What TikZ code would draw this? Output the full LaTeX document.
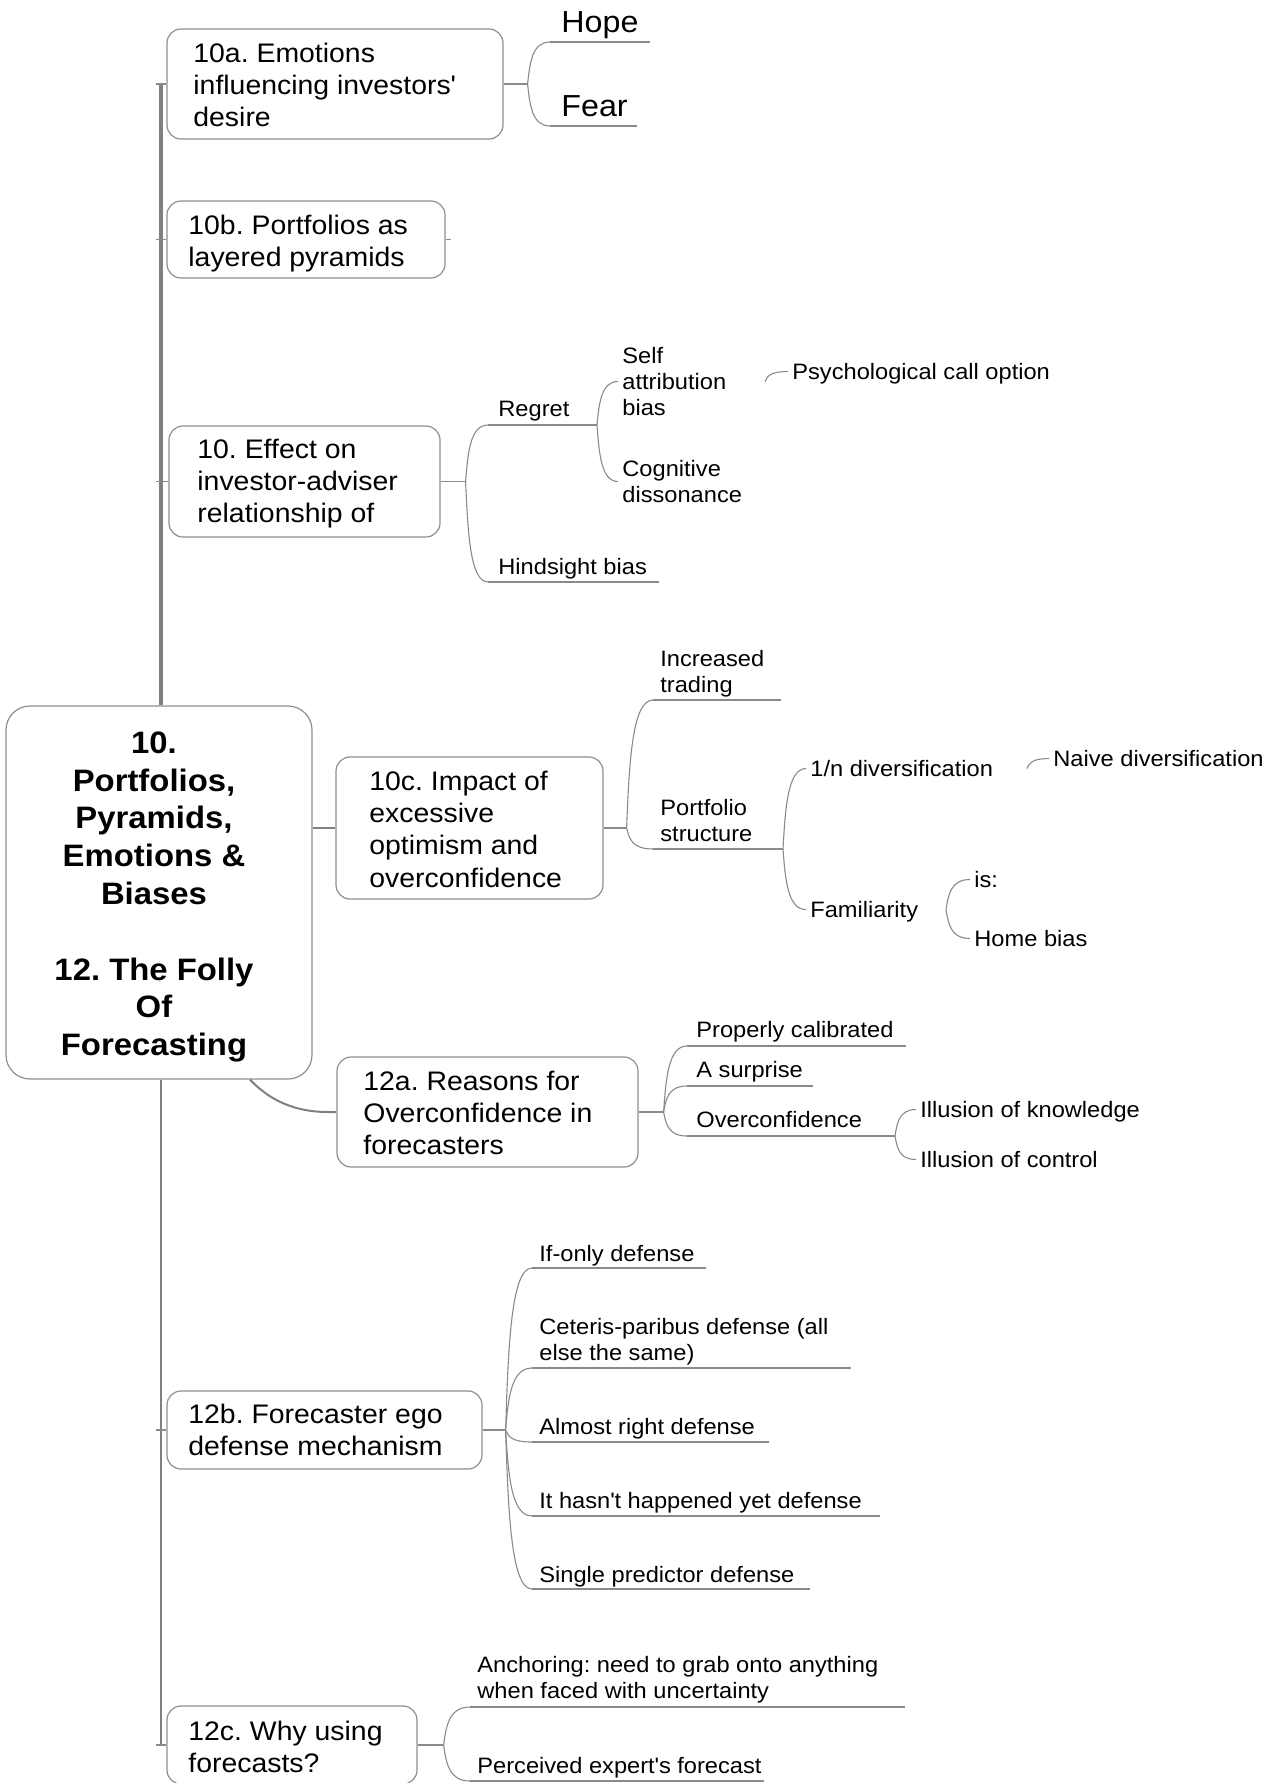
\documentclass[tikz,border=0pt]{standalone}
\usepackage{fontspec}
\setmainfont{Liberation Sans}[FakeStretch=1.06]
\usetikzlibrary{calc}

\definecolor{linegray}{HTML}{8A8A8A}
\definecolor{boxgray}{HTML}{8F8F8F}
\definecolor{trunkgray}{HTML}{808080}

% stacked left-aligned lines whose baseline is the last line
\newcommand\ml[1]{\vbox{\halign{##\hfil\cr#1\crcr}}}
% curved branch from a fork point to a child
\newcommand\bconn[2]{%
  \draw[conn] let \p1=(#1), \p2=(#2) in
    (\p1) .. controls ({\x1+0.1*(\x2-\x1)},{\y1+0.5*(\y2-\y1)})
              and ({\x1+0.2*(\x2-\x1)},{\y2}) .. (\p2);}
% underlined child: name, fork, line start x, line end x, line y, text x, baseline, style, text
\newcommand\uchild[9]{%
  \coordinate (#1-a) at (#3,#5);
  \coordinate (#1-b) at (#4,#5);
  \node[#8] (#1) at (#6,#7) {#9};
  \bconn{#2}{#1-a}
  \draw[conn] (#1-a) -- (#1-b);}

\tikzset{
  conn/.style={draw=linegray, line width=0.55pt},
  trunk/.style={draw=trunkgray, line width=1.9pt},
  trunklow/.style={draw=trunkgray, line width=1.3pt},
  mainlink/.style={draw=trunkgray, line width=1pt},
  topicbox/.style={draw=boxgray, line width=0.6pt, fill=white, rounded corners=7pt, inner sep=0pt},
  rootbox/.style={topicbox, rounded corners=12pt},
  topictext/.style={inner sep=0pt, anchor=west, align=left, font=\fontsize{13.4pt}{16.15pt}\selectfont},
  roottext/.style={inner sep=0pt, align=center, font=\bfseries\fontsize{15.5pt}{18.9pt}\selectfont},
  sub/.style={inner sep=0pt, text depth=0pt, anchor=south west, font=\fontsize{11.15pt}{13pt}\selectfont},
  bigsub/.style={sub, font=\fontsize{15.2pt}{18pt}\selectfont},
  leaf/.style={sub, inner xsep=2pt},
}

\begin{document}
\frenchspacing
\begin{tikzpicture}[x=0.5pt,y=-0.5pt]
\path[use as bounding box, fill=white] (0,0) rectangle (1267,1783);

% central topic
\node[rootbox, minimum width=153pt, minimum height=186.5pt] (root) at (159,892.5) {};
\node[roottext] (rootlabel) at (154,897) {10.\\Portfolios,\\Pyramids,\\Emotions \&\\Biases\\[18.9pt]12. The Folly\\Of\\Forecasting};

% main topics
\node[topicbox, minimum width=168pt, minimum height=55pt] (b10a) at (335,84) {};
\node[topictext] (l10a) at (193,85) {10a. Emotions\\influencing investors\textquotesingle\\desire};

\node[topicbox, minimum width=139pt, minimum height=38.5pt] (b10b) at (306,239.5) {};
\node[topictext] (l10b) at (188,243.5) {10b. Portfolios as\\layered pyramids};

\node[topicbox, minimum width=135.5pt, minimum height=55.5pt] (beff) at (304.5,481.5) {};
\node[topictext] (leff) at (197,483.5) {10. Effect on\\investor-adviser\\relationship of};

\node[topicbox, minimum width=133.5pt, minimum height=71pt] (b10c) at (469.5,828) {};
\node[topictext] (l10c) at (369,829) {10c. Impact of\\excessive\\optimism and\\overconfidence};

\node[topicbox, minimum width=150.5pt, minimum height=55pt] (b12a) at (487.5,1112) {};
\node[topictext] (l12a) at (363,1113) {12a. Reasons for\\Overconfidence in\\forecasters};

\node[topicbox, minimum width=157.5pt, minimum height=39pt] (b12b) at (324.5,1430) {};
\node[topictext] (l12b) at (188,1430) {12b. Forecaster ego\\defense mechanism};

\node[topicbox, minimum width=125pt, minimum height=39pt] (b12c) at (292,1745) {};
\node[topictext] (l12c) at (188,1747) {12c. Why using\\forecasts?};

% trunk from the central topic up and down
\coordinate (tk10a) at (161,0 |- b10a.west);
\coordinate (tk12c) at (161,0 |- b12c.west);
\draw[trunk] (tk10a) -- (161,0 |- root.north);
\draw[trunklow] (161,0 |- root.south) -- (tk12c);
\draw[conn] (156,0 |- b10a.west) -- (b10a.west);
\draw[conn] (156,0 |- b10b.west) -- (b10b.west);
\draw[conn] (156,0 |- beff.west) -- (beff.west);
\draw[conn] (156,0 |- b12b.west) -- (b12b.west);
\draw[conn] (156,0 |- b12c.west) -- (b12c.west);
\draw[conn] (b10b.east) -- ++(5,0);

% side links of the central topic
\draw[mainlink] (root.east |- b10c.west) -- (b10c.west);
\draw[mainlink] (250,0 |- root.south) .. controls +(20,21) and +(-33,0) .. (328,0 |- b12a.west) -- (b12a.west);

% fork points
\coordinate (f10a) at ($(b10a.east)+(24,0)$);
\coordinate (feff) at ($(beff.east)+(25,0)$);
\coordinate (f10c) at ($(b10c.east)+(23,0)$);
\coordinate (f12a) at ($(b12a.east)+(25,0)$);
\coordinate (f12b) at ($(b12b.east)+(23,0)$);
\coordinate (f12c) at ($(b12c.east)+(26,0)$);
\draw[conn] (b10a.east) -- (f10a);
\draw[conn] (beff.east) -- (feff);
\draw[conn] (b10c.east) -- (f10c);
\draw[conn] (b12a.east) -- (f12a);
\draw[conn] (b12b.east) -- (f12b);
\draw[conn] (b12c.east) -- (f12c);

% 10a
\uchild{hope}{f10a}{550}{650}{42}{561}{33}{bigsub}{Hope}
\uchild{fear}{f10a}{550}{637}{126}{561}{117}{bigsub}{Fear}

% 10. Effect
\uchild{regret}{feff}{488}{597}{425}{498}{417}{sub}{Regret}
\uchild{hind}{feff}{488}{659}{582}{498}{575}{sub}{Hindsight bias}
\node[leaf] (sab) at (618,416) {\ml{Self\cr attribution\cr bias}};
\node[leaf] (cogdis) at (618,503) {\ml{Cognitive\cr dissonance}};
\bconn{regret-b}{sab.west}
\bconn{regret-b}{cogdis.west}
\coordinate (sab-out) at (765,0 |- sab.east);
\node[leaf] (psych) at (788,380) {Psychological call option};
\bconn{sab-out}{psych.west}

% 10c
\uchild{incr}{f10c}{653}{781}{700}{660}{693}{sub}{\ml{Increased\cr trading}}
\uchild{pstruct}{f10c}{653}{783}{849}{660}{842}{sub}{\ml{Portfolio\cr structure}}
\node[leaf] (ndiv) at (806,777) {1/n diversification};
\node[leaf] (famil) at (806,918) {Familiarity};
\bconn{pstruct-b}{ndiv.west}
\bconn{pstruct-b}{famil.west}
\coordinate (ndiv-out) at (1027,0 |- ndiv.east);
\node[leaf] (naive) at (1049,767) {Naive diversification};
\bconn{ndiv-out}{naive.west}
\coordinate (famil-out) at (946,0 |- famil.east);
\node[leaf] (isn) at (970,888) {is:};
\node[leaf] (home) at (970,947) {Home bias};
\bconn{famil-out}{isn.west}
\bconn{famil-out}{home.west}

% 12a
\uchild{propcal}{f12a}{687}{906}{1046}{696}{1038}{sub}{Properly calibrated}
\uchild{surprise}{f12a}{687}{813}{1086}{696}{1078}{sub}{A surprise}
\uchild{overc}{f12a}{687}{895}{1136}{696}{1128}{sub}{Overconfidence}
\node[leaf] (illk) at (916,1118) {Illusion of knowledge};
\node[leaf] (illc) at (916,1168) {Illusion of control};
\bconn{overc-b}{illk.west}
\bconn{overc-b}{illc.west}

% 12b
\uchild{ifonly}{f12b}{532}{706}{1268}{539}{1262}{sub}{If-only defense}
\uchild{ceteris}{f12b}{532}{851}{1368}{539}{1361}{sub}{\ml{Ceteris-paribus defense (all\cr else the same)}}
\uchild{almost}{f12b}{532}{769}{1442}{539}{1435}{sub}{Almost right defense}
\uchild{hasnt}{f12b}{532}{880}{1516}{539}{1509}{sub}{It hasn\textquotesingle t happened yet defense}
\uchild{single}{f12b}{532}{810}{1589}{539}{1583}{sub}{Single predictor defense}

% 12c
\uchild{anchoring}{f12c}{470}{905}{1707}{477}{1699}{sub}{\ml{Anchoring: need to grab onto anything\cr when faced with uncertainty}}
\uchild{perceived}{f12c}{470}{764}{1781}{477}{1774}{sub}{Perceived expert\textquotesingle s forecast}
\end{tikzpicture}
\end{document}
